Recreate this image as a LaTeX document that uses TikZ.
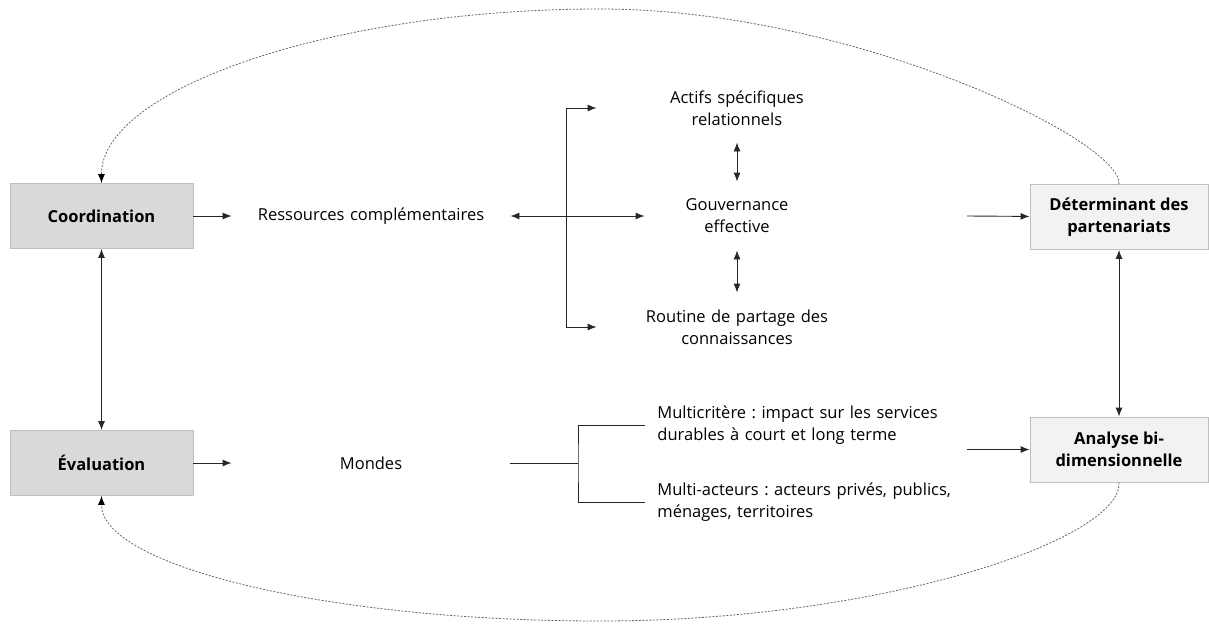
\documentclass[tikz,border=0pt]{standalone}
\usepackage{fontspec}
\setmainfont{Open Sans}
\usetikzlibrary{arrows.meta}
\definecolor{boxdark}{HTML}{D9D9D9}
\definecolor{boxlight}{HTML}{F2F2F2}
\definecolor{boxedge}{HTML}{BFBFBF}
\newcommand{\diagfont}{\fontsize{16.5}{22}\selectfont\frenchspacing}

\begin{document}
\begin{tikzpicture}[x=1pt, y=-1pt, ->, >={Latex[length=9pt,width=7pt]}, line width=0.9pt, draw=black!85,
	main box/.style={draw=boxedge, fill=boxdark, minimum width=183pt, minimum height=65pt, inner sep=0pt, align=center, font=\diagfont\bfseries},
	light box/.style={main box, fill=boxlight, minimum width=178pt},
	side text/.style={text width=278pt, inner sep=0pt, align=center, font=\diagfont},
	mid text/.style={text width=280pt, minimum height=68pt, inner sep=0pt, align=center, font=\diagfont},
	crit text/.style={anchor=west, text width=320pt, inner xsep=12pt, inner ysep=0pt, align=left, font=\diagfont},
	loop line/.style={draw=black!60, line width=0.8pt, dash pattern=on 2pt off 1.5pt, -{Latex[length=9pt,width=7pt,color=black]}}]
	\useasboundingbox (0,0) rectangle (1209,624);
	\node[main box] (coord) at (101.5,216) {Coordination};
	\node[main box] (eval) at (101.5,463) {Évaluation};
	\node[light box] (det) at (1119,217) {Déterminant des\\partenariats};
	\node[light box] (ana) at (1119,449.5) {Analyse bi-\\dimensionnelle};
	\node[side text] (res) at (371,216) {Ressources complémentaires};
	\node[side text] (mondes) at (371,463) {Mondes};
	\node[mid text] (actifs) at (737,108) {Actifs spécifiques\\relationnels};
	\node[mid text, text width=184pt] (gouv) at (737,216) {Gouvernance\\effective};
	\node[mid text] (routine) at (737,327) {Routine de partage des\\connaissances};
	\node[crit text] (multi) at (645,425) {Multicritère : impact sur les services\\durables à court et long terme};
	\node[crit text] (acteurs) at (645,502) {Multi-acteurs : acteurs privés, publics,\\ménages, territoires};
	\coordinate (split) at (566,216);
	\coordinate (fork) at (578,463);
	\coordinate (toDet) at (967,216);
	\coordinate (toAna) at (967,449.5);
	\path
		(coord) edge (res)
		(res) edge[<->] (gouv)
		(actifs) edge[<->] (gouv)
		(gouv) edge[<->] (routine)
		(toDet) edge (det)
		(coord) edge[<->] (eval)
		(det) edge[<->] (ana)
		(eval) edge (mondes)
		(mondes) edge[-] (fork)
		(toAna) edge (ana);
	\draw (split) |- (actifs);
	\draw (split) |- (routine);
	\draw[-] (multi.west) -| (fork) |- (acteurs.west);
	% dashed loops round the outside
	\draw[loop line] (det.north) .. controls (1122,140) and (850,9) .. (600,9) .. controls (330,9) and (101,90) .. (coord.north);
	\draw[loop line] (ana.south) .. controls (1122,540) and (880,621) .. (600,621) .. controls (323,621) and (101,565) .. (eval.south);
\end{tikzpicture}
\end{document}
